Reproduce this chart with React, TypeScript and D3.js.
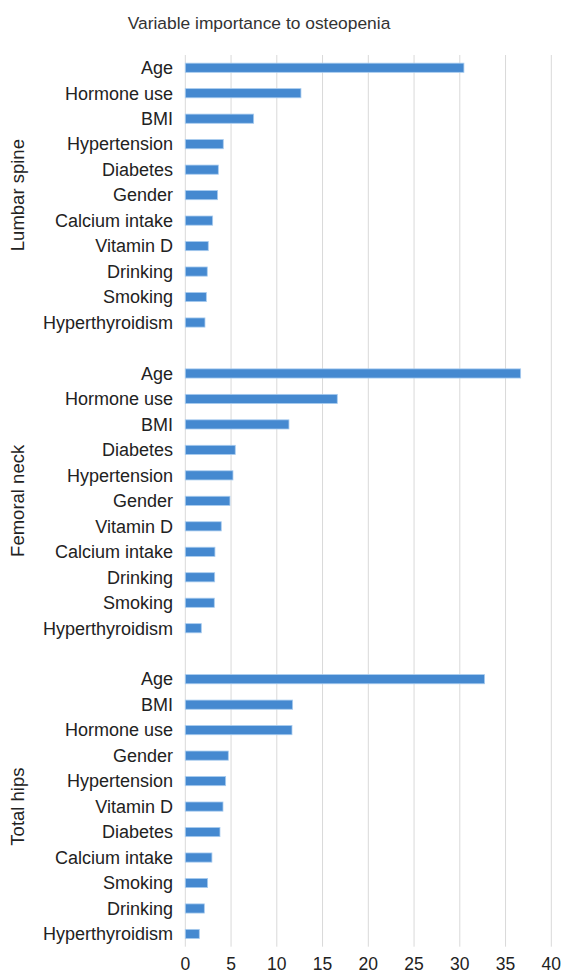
import React from 'react';
import * as d3 from 'd3';

// chart values
const title = 'Variable importance to osteopenia';

const lumbarLabels = ['Age', 'Hormone use', 'BMI', 'Hypertension', 'Diabetes', 'Gender', 'Calcium intake', 'Vitamin D', 'Drinking', 'Smoking', 'Hyperthyroidism'];
const lumbarValues = [30.45, 12.64, 7.47, 4.15, 3.61, 3.53, 2.99, 2.51, 2.4, 2.3, 2.15];

const femoralLabels = ['Age', 'Hormone use', 'BMI', 'Diabetes', 'Hypertension', 'Gender', 'Vitamin D', 'Calcium intake', 'Drinking', 'Smoking', 'Hyperthyroidism'];
const femoralValues = [36.65, 16.61, 11.33, 5.46, 5.21, 4.88, 3.93, 3.24, 3.21, 3.17, 1.75];

const hipsLabels = ['Age', 'BMI', 'Hormone use', 'Gender', 'Hypertension', 'Vitamin D', 'Diabetes', 'Calcium intake', 'Smoking', 'Drinking', 'Hyperthyroidism'];
const hipsValues = [32.71, 11.73, 11.66, 4.7, 4.41, 4.12, 3.79, 2.91, 2.44, 2.08, 1.53];

const groupNames = ['Lumbar spine', 'Femoral neck', 'Total hips'];
const xTicks = [0, 5, 10, 15, 20, 25, 30, 35, 40];

const width = 563;
const height = 973;
const font = '"Liberation Sans", Arial, Helvetica, sans-serif';

export default function App() {
  const groups = [
    { name: groupNames[0], labels: lumbarLabels, values: lumbarValues },
    { name: groupNames[1], labels: femoralLabels, values: femoralValues },
    { name: groupNames[2], labels: hipsLabels, values: hipsValues },
  ];

  // one slot per bar, plus an empty slot between groups
  const rows: { key: string; label: string; value: number; group: number }[] = [];
  const slots: string[] = [];
  groups.forEach((g, gi) => {
    if (gi > 0) slots.push('gap' + gi);
    g.labels.forEach((l, i) => {
      const key = gi + '-' + l;
      slots.push(key);
      rows.push({ key, label: l, value: g.values[i], group: gi });
    });
  });

  const top = 55;
  const bottom = 946.7;
  const x = d3.scaleLinear().domain([0, 40]).range([185.3, 551.3]);
  const y = d3.scaleBand().domain(slots).range([top, bottom]).paddingInner(0.64).paddingOuter(0.32);
  const step = y.step();

  return (
    <div style={{ position: 'absolute', left: 0, top: 0 }}>
      <svg width={width} height={height} style={{ display: 'block', background: '#fff' }}>
        <text x={259} y={29} textAnchor='middle' fontFamily={font} fontSize={17.4} fill='#333'>
          {title}
        </text>

        {/* grid */}
        {xTicks.map(t => (
          <line key={t} x1={x(t)} x2={x(t)} y1={top} y2={bottom} stroke='#D9D9D9' strokeWidth={1} />
        ))}

        {/* bars */}
        {rows.map(r => (
          <rect
            key={r.key}
            x={x(0)}
            y={y(r.key)!}
            width={x(r.value) - x(0)}
            height={y.bandwidth()}
            fill='#4589D0'
            stroke='#A9CCEF'
            strokeWidth={0.8}
          />
        ))}

        {/* category labels */}
        {rows.map(r => (
          <text
            key={'l' + r.key}
            x={173}
            y={y(r.key)! + y.bandwidth() / 2}
            dy='0.35em'
            textAnchor='end'
            fontFamily={font}
            fontSize={18}
            fill='#222'
          >
            {r.label}
          </text>
        ))}

        {/* group labels */}
        {groups.map((g, gi) => {
          const first = y(gi + '-' + g.labels[0])!;
          const last = y(gi + '-' + g.labels[g.labels.length - 1])!;
          const cy = (first + last + y.bandwidth()) / 2;
          return (
            <text
              key={g.name}
              transform={`translate(24,${cy}) rotate(-90)`}
              textAnchor='middle'
              fontFamily={font}
              fontSize={18.5}
              fill='#222'
            >
              {g.name}
            </text>
          );
        })}

        {/* x tick labels */}
        {xTicks.map(t => (
          <text key={'t' + t} x={x(t)} y={bottom + step * 0.9} textAnchor='middle' fontFamily={font} fontSize={17.5} fill='#222'>
            {t}
          </text>
        ))}
      </svg>
    </div>
  );
}
